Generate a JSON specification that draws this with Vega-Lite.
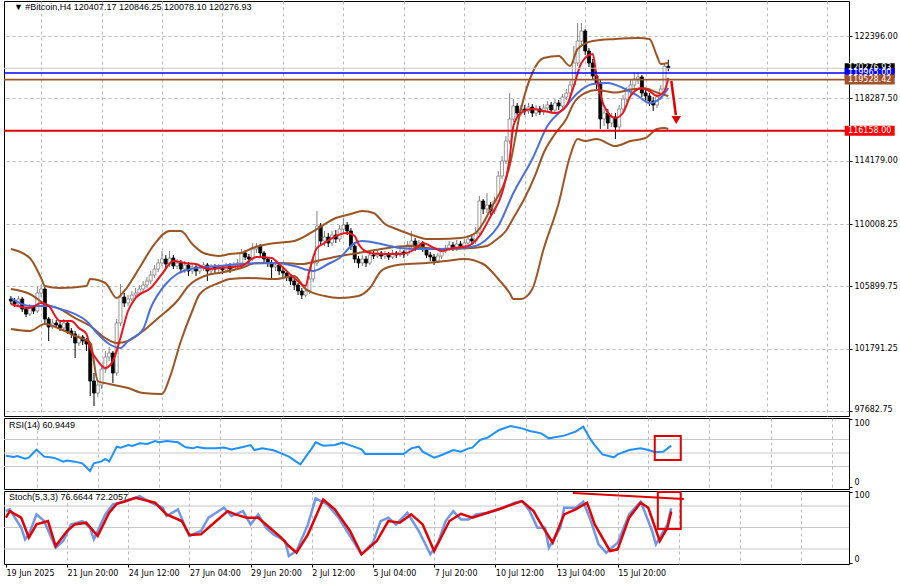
{
"$schema":"https://vega.github.io/schema/vega-lite/v6.json",
"padding":0,
"background":"white",
"spacing":0,
"config":{
 "view":{"stroke":"#000000","strokeWidth":1},
 "axis":{"labelFont":"DejaVu Sans","labelFontSize":8,"labelColor":"#000000","title":null,"gridColor":"#b8b8b8","gridDash":[3,3],"gridWidth":1,"tickColor":"#000000","domain":false}
},
"datasets":{
"bars":[
{"i":0,"o":105066,"h":105264,"l":104736,"c":104934},
{"i":1,"o":104934,"h":105132,"l":104538,"c":104736},
{"i":2,"o":104736,"h":105264,"l":104538,"c":105066},
{"i":3,"o":105066,"h":105198,"l":104209,"c":104407},
{"i":4,"o":104407,"h":104538,"l":103879,"c":104075},
{"i":5,"o":104075,"h":104736,"l":103945,"c":104538},
{"i":6,"o":104538,"h":104670,"l":104075,"c":104275},
{"i":7,"o":104275,"h":105857,"l":104143,"c":105461},
{"i":8,"o":105461,"h":105989,"l":105198,"c":105725},
{"i":9,"o":105725,"h":105857,"l":103484,"c":103747},
{"i":10,"o":103747,"h":103879,"l":102297,"c":103220},
{"i":11,"o":103220,"h":103747,"l":103088,"c":103484},
{"i":12,"o":103484,"h":103682,"l":103154,"c":103352},
{"i":13,"o":103352,"h":103550,"l":102956,"c":103154},
{"i":14,"o":103154,"h":103747,"l":102956,"c":103484},
{"i":15,"o":103484,"h":103616,"l":102759,"c":102956},
{"i":16,"o":102956,"h":103154,"l":102495,"c":102759},
{"i":17,"o":102759,"h":102956,"l":101177,"c":102165},
{"i":18,"o":102165,"h":102759,"l":101968,"c":102561},
{"i":19,"o":102561,"h":102693,"l":102034,"c":102297},
{"i":20,"o":102297,"h":102495,"l":101638,"c":102099},
{"i":21,"o":102099,"h":102231,"l":98672,"c":99660},
{"i":22,"o":99660,"h":100188,"l":98012,"c":98869},
{"i":23,"o":98869,"h":99660,"l":98606,"c":99397},
{"i":24,"o":99397,"h":100715,"l":99133,"c":100451},
{"i":25,"o":100451,"h":101638,"l":100188,"c":101242},
{"i":26,"o":101242,"h":101902,"l":100979,"c":101506},
{"i":27,"o":101506,"h":101638,"l":99529,"c":100188},
{"i":28,"o":100188,"h":103747,"l":99990,"c":103484},
{"i":29,"o":103484,"h":106055,"l":103286,"c":105198},
{"i":30,"o":105198,"h":105461,"l":104538,"c":104802},
{"i":31,"o":104802,"h":105330,"l":104604,"c":105066},
{"i":32,"o":105066,"h":105593,"l":104934,"c":105330},
{"i":33,"o":105330,"h":105791,"l":105132,"c":105461},
{"i":34,"o":105461,"h":105989,"l":105264,"c":105725},
{"i":35,"o":105725,"h":106252,"l":105461,"c":105989},
{"i":36,"o":105989,"h":106516,"l":105791,"c":106252},
{"i":37,"o":106252,"h":106912,"l":106055,"c":106648},
{"i":38,"o":106648,"h":107307,"l":106450,"c":107043},
{"i":39,"o":107043,"h":107703,"l":106846,"c":107439},
{"i":40,"o":107439,"h":108230,"l":107241,"c":107703},
{"i":41,"o":107703,"h":107966,"l":107109,"c":107373},
{"i":42,"o":107373,"h":108230,"l":107175,"c":107769},
{"i":43,"o":107769,"h":107966,"l":107043,"c":107241},
{"i":44,"o":107241,"h":107703,"l":107043,"c":107439},
{"i":45,"o":107439,"h":107637,"l":106846,"c":107043},
{"i":46,"o":107043,"h":107571,"l":106780,"c":107307},
{"i":47,"o":107307,"h":107505,"l":106582,"c":106912},
{"i":48,"o":106912,"h":107439,"l":106714,"c":107175},
{"i":49,"o":107175,"h":107373,"l":106582,"c":106912},
{"i":50,"o":106912,"h":107307,"l":106714,"c":107109},
{"i":51,"o":107109,"h":107505,"l":106912,"c":107307},
{"i":52,"o":107307,"h":107439,"l":106252,"c":106912},
{"i":53,"o":106912,"h":107373,"l":106714,"c":107175},
{"i":54,"o":107175,"h":107373,"l":106780,"c":107043},
{"i":55,"o":107043,"h":107373,"l":106846,"c":107175},
{"i":56,"o":107175,"h":107307,"l":106714,"c":106978},
{"i":57,"o":106978,"h":107439,"l":106846,"c":107241},
{"i":58,"o":107241,"h":107439,"l":106780,"c":107043},
{"i":59,"o":107043,"h":107505,"l":106912,"c":107307},
{"i":60,"o":107307,"h":107703,"l":107109,"c":107439},
{"i":61,"o":107439,"h":108362,"l":107241,"c":108098},
{"i":62,"o":108098,"h":108296,"l":107637,"c":107834},
{"i":63,"o":107834,"h":108032,"l":107439,"c":107703},
{"i":64,"o":107703,"h":108757,"l":107571,"c":108362},
{"i":65,"o":108362,"h":108757,"l":108098,"c":108560},
{"i":66,"o":108560,"h":108691,"l":107834,"c":108098},
{"i":67,"o":108098,"h":108230,"l":107439,"c":107703},
{"i":68,"o":107703,"h":107834,"l":107175,"c":107439},
{"i":69,"o":107439,"h":107637,"l":106450,"c":107175},
{"i":70,"o":107175,"h":107571,"l":106912,"c":107307},
{"i":71,"o":107307,"h":107439,"l":106648,"c":106912},
{"i":72,"o":106912,"h":107109,"l":106516,"c":106780},
{"i":73,"o":106780,"h":106912,"l":106252,"c":106516},
{"i":74,"o":106516,"h":106714,"l":105989,"c":106252},
{"i":75,"o":106252,"h":106450,"l":105659,"c":105989},
{"i":76,"o":105989,"h":106121,"l":105330,"c":105593},
{"i":77,"o":105593,"h":105791,"l":105066,"c":105330},
{"i":78,"o":105330,"h":105857,"l":105198,"c":105593},
{"i":79,"o":105593,"h":106582,"l":105395,"c":106384},
{"i":80,"o":106384,"h":107703,"l":106186,"c":107439},
{"i":81,"o":107439,"h":110867,"l":107241,"c":109878},
{"i":82,"o":109878,"h":110076,"l":108626,"c":108889},
{"i":83,"o":108889,"h":109548,"l":108560,"c":109153},
{"i":84,"o":109153,"h":109417,"l":108494,"c":108757},
{"i":85,"o":108757,"h":109548,"l":108560,"c":109285},
{"i":86,"o":109285,"h":109614,"l":108757,"c":109021},
{"i":87,"o":109021,"h":109944,"l":108823,"c":109680},
{"i":88,"o":109680,"h":110405,"l":109417,"c":109944},
{"i":89,"o":109944,"h":110142,"l":109285,"c":109548},
{"i":90,"o":109548,"h":109746,"l":108296,"c":108560},
{"i":91,"o":108560,"h":108757,"l":107439,"c":107703},
{"i":92,"o":107703,"h":107900,"l":107109,"c":107439},
{"i":93,"o":107439,"h":107966,"l":107241,"c":107703},
{"i":94,"o":107703,"h":107900,"l":107175,"c":107439},
{"i":95,"o":107439,"h":108164,"l":107307,"c":107966},
{"i":96,"o":107966,"h":108230,"l":107703,"c":107900},
{"i":97,"o":107900,"h":108296,"l":107769,"c":108098},
{"i":98,"o":108098,"h":108230,"l":107703,"c":107900},
{"i":99,"o":107900,"h":108230,"l":107703,"c":108032},
{"i":100,"o":108032,"h":108164,"l":107637,"c":107834},
{"i":101,"o":107834,"h":108296,"l":107703,"c":108098},
{"i":102,"o":108098,"h":108230,"l":107769,"c":107966},
{"i":103,"o":107966,"h":108362,"l":107834,"c":108164},
{"i":104,"o":108164,"h":108296,"l":107769,"c":108032},
{"i":105,"o":108032,"h":108889,"l":107900,"c":108626},
{"i":106,"o":108626,"h":109548,"l":108428,"c":108889},
{"i":107,"o":108889,"h":109087,"l":108230,"c":108494},
{"i":108,"o":108494,"h":108955,"l":108296,"c":108757},
{"i":109,"o":108757,"h":108889,"l":108164,"c":108362},
{"i":110,"o":108362,"h":108494,"l":107769,"c":107966},
{"i":111,"o":107966,"h":108164,"l":107571,"c":107834},
{"i":112,"o":107834,"h":108032,"l":107307,"c":107571},
{"i":113,"o":107571,"h":108098,"l":107439,"c":107900},
{"i":114,"o":107900,"h":108428,"l":107703,"c":108230},
{"i":115,"o":108230,"h":108626,"l":108098,"c":108362},
{"i":116,"o":108362,"h":108889,"l":108230,"c":108626},
{"i":117,"o":108626,"h":108823,"l":108230,"c":108428},
{"i":118,"o":108428,"h":108955,"l":108230,"c":108691},
{"i":119,"o":108691,"h":108889,"l":108362,"c":108560},
{"i":120,"o":108560,"h":109021,"l":108362,"c":108757},
{"i":121,"o":108757,"h":109285,"l":108560,"c":109021},
{"i":122,"o":109021,"h":109351,"l":108626,"c":108889},
{"i":123,"o":108889,"h":109812,"l":108691,"c":109417},
{"i":124,"o":109417,"h":111856,"l":109285,"c":111526},
{"i":125,"o":111526,"h":111658,"l":110669,"c":110999},
{"i":126,"o":110999,"h":112053,"l":110735,"c":111262},
{"i":127,"o":111262,"h":111460,"l":110603,"c":110867},
{"i":128,"o":110867,"h":111790,"l":110669,"c":111526},
{"i":129,"o":111526,"h":113504,"l":111328,"c":113174},
{"i":130,"o":113174,"h":114492,"l":112976,"c":114163},
{"i":131,"o":114163,"h":115811,"l":113965,"c":115481},
{"i":132,"o":115481,"h":118645,"l":115283,"c":116931},
{"i":133,"o":116931,"h":118250,"l":116734,"c":117788},
{"i":134,"o":117788,"h":117986,"l":117063,"c":117327},
{"i":135,"o":117327,"h":117854,"l":117129,"c":117591},
{"i":136,"o":117591,"h":117854,"l":117195,"c":117459},
{"i":137,"o":117459,"h":117986,"l":117261,"c":117722},
{"i":138,"o":117722,"h":117920,"l":117063,"c":117327},
{"i":139,"o":117327,"h":117854,"l":117129,"c":117591},
{"i":140,"o":117591,"h":117788,"l":117195,"c":117393},
{"i":141,"o":117393,"h":117920,"l":117195,"c":117657},
{"i":142,"o":117657,"h":118118,"l":117393,"c":117854},
{"i":143,"o":117854,"h":118052,"l":117327,"c":117525},
{"i":144,"o":117525,"h":118250,"l":117327,"c":117986},
{"i":145,"o":117986,"h":118184,"l":117525,"c":117788},
{"i":146,"o":117788,"h":118579,"l":117591,"c":118382},
{"i":147,"o":118382,"h":118909,"l":118184,"c":118645},
{"i":148,"o":118645,"h":119436,"l":118448,"c":119173},
{"i":149,"o":119173,"h":121744,"l":119041,"c":120623},
{"i":150,"o":120623,"h":123260,"l":120425,"c":122073},
{"i":151,"o":122073,"h":123260,"l":121744,"c":122732},
{"i":152,"o":122732,"h":122864,"l":121150,"c":121414},
{"i":153,"o":121414,"h":121612,"l":120359,"c":120623},
{"i":154,"o":120623,"h":120887,"l":119502,"c":119766},
{"i":155,"o":119766,"h":120096,"l":118909,"c":119305},
{"i":156,"o":119305,"h":119568,"l":116272,"c":116931},
{"i":157,"o":116931,"h":117591,"l":116470,"c":117327},
{"i":158,"o":117327,"h":117591,"l":116272,"c":116668},
{"i":159,"o":116668,"h":117327,"l":116404,"c":117063},
{"i":160,"o":117063,"h":117327,"l":115613,"c":116404},
{"i":161,"o":116404,"h":117854,"l":116140,"c":117591},
{"i":162,"o":117591,"h":118514,"l":117393,"c":118250},
{"i":163,"o":118250,"h":119041,"l":118052,"c":118777},
{"i":164,"o":118777,"h":119568,"l":118514,"c":119173},
{"i":165,"o":119173,"h":119964,"l":118909,"c":119568},
{"i":166,"o":119568,"h":119964,"l":119239,"c":119700},
{"i":167,"o":119700,"h":119832,"l":118382,"c":118645},
{"i":168,"o":118645,"h":118909,"l":118118,"c":118448},
{"i":169,"o":118448,"h":118645,"l":117788,"c":118118},
{"i":170,"o":118118,"h":118382,"l":117459,"c":117854},
{"i":171,"o":117854,"h":118579,"l":117657,"c":118382},
{"i":172,"o":118382,"h":119173,"l":118184,"c":118909},
{"i":173,"o":118909,"h":120623,"l":118711,"c":120407},
{"i":174,"o":120407.17,"h":120846.25,"l":120078.10,"c":120276.93}
],
"ln":[
{"s":"u","i":0,"v":108362},{"s":"u","i":5,"v":107769},{"s":"u","i":8,"v":106450},{"s":"u","i":9,"v":105923},{"s":"u","i":13,"v":105791},{"s":"u","i":20,"v":105923},{"s":"u","i":21,"v":106384},{"s":"u","i":25,"v":106121},{"s":"u","i":28,"v":105132},{"s":"u","i":30,"v":105593},{"s":"u","i":34,"v":107109},{"s":"u","i":38,"v":108691},{"s":"u","i":42,"v":109548},{"s":"u","i":45,"v":109548},{"s":"u","i":48,"v":108691},{"s":"u","i":51,"v":108098},{"s":"u","i":55,"v":107900},{"s":"u","i":58,"v":108032},{"s":"u","i":61,"v":108098},{"s":"u","i":64,"v":108428},{"s":"u","i":70,"v":108757},{"s":"u","i":75,"v":108889},{"s":"u","i":81,"v":109680},{"s":"u","i":86,"v":110405},{"s":"u","i":90,"v":110669},{"s":"u","i":93,"v":110867},{"s":"u","i":96,"v":110735},{"s":"u","i":99,"v":110010},{"s":"u","i":102,"v":109680},{"s":"u","i":107,"v":109219},{"s":"u","i":110,"v":109021},{"s":"u","i":113,"v":109021},{"s":"u","i":119,"v":109087},{"s":"u","i":123,"v":109417},{"s":"u","i":125,"v":110076},{"s":"u","i":127,"v":110999},{"s":"u","i":132,"v":113833},{"s":"u","i":135,"v":117591},{"s":"u","i":138,"v":119964},{"s":"u","i":141,"v":120953},{"s":"u","i":145,"v":121084},{"s":"u","i":148,"v":120425},{"s":"u","i":150,"v":121546},{"s":"u","i":154,"v":122073},{"s":"u","i":160,"v":122205},{"s":"u","i":166,"v":122271},{"s":"u","i":169,"v":122205},{"s":"u","i":171,"v":121084},{"s":"u","i":172,"v":120557},{"s":"u","i":174,"v":120623},
{"s":"m","i":0,"v":105725},{"s":"m","i":5,"v":105395},{"s":"m","i":9,"v":104736},{"s":"m","i":13,"v":104407},{"s":"m","i":17,"v":103813},{"s":"m","i":21,"v":103286},{"s":"m","i":25,"v":102495},{"s":"m","i":28,"v":102165},{"s":"m","i":31,"v":102297},{"s":"m","i":35,"v":102956},{"s":"m","i":39,"v":103813},{"s":"m","i":44,"v":104934},{"s":"m","i":47,"v":105923},{"s":"m","i":52,"v":106648},{"s":"m","i":55,"v":106780},{"s":"m","i":61,"v":107109},{"s":"m","i":65,"v":107439},{"s":"m","i":72,"v":107439},{"s":"m","i":77,"v":107373},{"s":"m","i":81,"v":107571},{"s":"m","i":87,"v":107900},{"s":"m","i":92,"v":108098},{"s":"m","i":98,"v":108362},{"s":"m","i":105,"v":108560},{"s":"m","i":110,"v":108428},{"s":"m","i":115,"v":108362},{"s":"m","i":122,"v":108428},{"s":"m","i":126,"v":108560},{"s":"m","i":128,"v":108889},{"s":"m","i":131,"v":109548},{"s":"m","i":133,"v":110405},{"s":"m","i":136,"v":111724},{"s":"m","i":139,"v":113372},{"s":"m","i":141,"v":114690},{"s":"m","i":144,"v":115943},{"s":"m","i":147,"v":116931},{"s":"m","i":149,"v":117986},{"s":"m","i":152,"v":118645},{"s":"m","i":155,"v":118843},{"s":"m","i":160,"v":118678},{"s":"m","i":164,"v":118875},{"s":"m","i":168,"v":118941},{"s":"m","i":171,"v":118678},{"s":"m","i":174,"v":118448},
{"s":"l","i":0,"v":103088},{"s":"l","i":5,"v":102956},{"s":"l","i":9,"v":103418},{"s":"l","i":13,"v":103088},{"s":"l","i":17,"v":102627},{"s":"l","i":21,"v":102165},{"s":"l","i":23,"v":99660},{"s":"l","i":26,"v":99462},{"s":"l","i":31,"v":99199},{"s":"l","i":35,"v":98869},{"s":"l","i":40,"v":98803},{"s":"l","i":42,"v":99858},{"s":"l","i":45,"v":102297},{"s":"l","i":48,"v":104275},{"s":"l","i":50,"v":105395},{"s":"l","i":55,"v":106121},{"s":"l","i":58,"v":106384},{"s":"l","i":63,"v":106450},{"s":"l","i":70,"v":106384},{"s":"l","i":75,"v":106582},{"s":"l","i":78,"v":105725},{"s":"l","i":83,"v":105264},{"s":"l","i":87,"v":105132},{"s":"l","i":92,"v":105264},{"s":"l","i":95,"v":105791},{"s":"l","i":98,"v":106912},{"s":"l","i":101,"v":107241},{"s":"l","i":105,"v":107373},{"s":"l","i":110,"v":107439},{"s":"l","i":115,"v":107571},{"s":"l","i":120,"v":107703},{"s":"l","i":125,"v":107373},{"s":"l","i":129,"v":106384},{"s":"l","i":132,"v":105461},{"s":"l","i":133,"v":105066},{"s":"l","i":135,"v":105066},{"s":"l","i":138,"v":105725},{"s":"l","i":141,"v":108362},{"s":"l","i":145,"v":111394},{"s":"l","i":148,"v":114492},{"s":"l","i":150,"v":115613},{"s":"l","i":152,"v":115481},{"s":"l","i":155,"v":115613},{"s":"l","i":160,"v":115152},{"s":"l","i":164,"v":115481},{"s":"l","i":168,"v":115679},{"s":"l","i":171,"v":116272},{"s":"l","i":173,"v":116338},{"s":"l","i":174,"v":116272},
{"s":"b","i":0,"v":105132},{"s":"b","i":5,"v":104604},{"s":"b","i":10,"v":104604},{"s":"b","i":13,"v":104407},{"s":"b","i":17,"v":104075},{"s":"b","i":20,"v":103616},{"s":"b","i":23,"v":102759},{"s":"b","i":26,"v":102099},{"s":"b","i":29,"v":101836},{"s":"b","i":31,"v":102297},{"s":"b","i":35,"v":103088},{"s":"b","i":37,"v":104473},{"s":"b","i":41,"v":106055},{"s":"b","i":44,"v":106714},{"s":"b","i":49,"v":107109},{"s":"b","i":55,"v":107241},{"s":"b","i":61,"v":107373},{"s":"b","i":70,"v":107439},{"s":"b","i":75,"v":107241},{"s":"b","i":80,"v":106912},{"s":"b","i":84,"v":107373},{"s":"b","i":87,"v":107769},{"s":"b","i":91,"v":108757},{"s":"b","i":93,"v":108889},{"s":"b","i":98,"v":108691},{"s":"b","i":103,"v":108428},{"s":"b","i":108,"v":108362},{"s":"b","i":113,"v":108362},{"s":"b","i":119,"v":108428},{"s":"b","i":123,"v":108560},{"s":"b","i":126,"v":109021},{"s":"b","i":129,"v":109878},{"s":"b","i":133,"v":112053},{"s":"b","i":138,"v":114295},{"s":"b","i":142,"v":116470},{"s":"b","i":147,"v":117788},{"s":"b","i":150,"v":118645},{"s":"b","i":154,"v":119239},{"s":"b","i":158,"v":119305},{"s":"b","i":162,"v":118975},{"s":"b","i":166,"v":118448},{"s":"b","i":169,"v":117986},{"s":"b","i":172,"v":118316},{"s":"b","i":174,"v":118975},
{"s":"r","i":0,"v":104736},{"s":"r","i":5,"v":104473},{"s":"r","i":8,"v":104802},{"s":"r","i":10,"v":104604},{"s":"r","i":13,"v":103616},{"s":"r","i":16,"v":103616},{"s":"r","i":18,"v":103154},{"s":"r","i":20,"v":102759},{"s":"r","i":21,"v":101836},{"s":"r","i":23,"v":100979},{"s":"r","i":25,"v":100517},{"s":"r","i":27,"v":100979},{"s":"r","i":29,"v":102495},{"s":"r","i":31,"v":104275},{"s":"r","i":33,"v":105132},{"s":"r","i":37,"v":105791},{"s":"r","i":40,"v":106714},{"s":"r","i":43,"v":107571},{"s":"r","i":46,"v":107439},{"s":"r","i":49,"v":107373},{"s":"r","i":52,"v":107043},{"s":"r","i":55,"v":107109},{"s":"r","i":61,"v":107241},{"s":"r","i":65,"v":107834},{"s":"r","i":69,"v":107769},{"s":"r","i":71,"v":107373},{"s":"r","i":75,"v":106450},{"s":"r","i":78,"v":105923},{"s":"r","i":79,"v":106912},{"s":"r","i":81,"v":108428},{"s":"r","i":83,"v":108757},{"s":"r","i":85,"v":109087},{"s":"r","i":89,"v":109417},{"s":"r","i":91,"v":109219},{"s":"r","i":92,"v":108691},{"s":"r","i":95,"v":108098},{"s":"r","i":98,"v":108032},{"s":"r","i":103,"v":108032},{"s":"r","i":107,"v":108362},{"s":"r","i":109,"v":108757},{"s":"r","i":112,"v":108428},{"s":"r","i":114,"v":108230},{"s":"r","i":117,"v":108428},{"s":"r","i":121,"v":108560},{"s":"r","i":124,"v":109219},{"s":"r","i":127,"v":110537},{"s":"r","i":130,"v":112053},{"s":"r","i":132,"v":114295},{"s":"r","i":133,"v":116470},{"s":"r","i":135,"v":117327},{"s":"r","i":138,"v":117591},{"s":"r","i":141,"v":117459},{"s":"r","i":144,"v":117327},{"s":"r","i":147,"v":117788},{"s":"r","i":149,"v":119107},{"s":"r","i":151,"v":120623},{"s":"r","i":154,"v":121216},{"s":"r","i":155,"v":119766},{"s":"r","i":157,"v":117788},{"s":"r","i":160,"v":116997},{"s":"r","i":162,"v":117327},{"s":"r","i":164,"v":118448},{"s":"r","i":167,"v":118975},{"s":"r","i":169,"v":118777},{"s":"r","i":171,"v":118448},{"s":"r","i":173,"v":118777},{"s":"r","i":174,"v":119634}
],
"osc":[
{"s":"rsi","i":0,"v":46.0},{"s":"rsi","i":2,"v":44.0},{"s":"rsi","i":3,"v":45.5},{"s":"rsi","i":5,"v":41.5},{"s":"rsi","i":6,"v":43.0},{"s":"rsi","i":8,"v":55.0},{"s":"rsi","i":10,"v":44.6},{"s":"rsi","i":12,"v":43.5},{"s":"rsi","i":13,"v":42.1},{"s":"rsi","i":15,"v":37.2},{"s":"rsi","i":16,"v":39.0},{"s":"rsi","i":18,"v":37.2},{"s":"rsi","i":20,"v":34.7},{"s":"rsi","i":22,"v":23.3},{"s":"rsi","i":23,"v":34.7},{"s":"rsi","i":25,"v":37.5},{"s":"rsi","i":26,"v":41.1},{"s":"rsi","i":27,"v":37.2},{"s":"rsi","i":29,"v":59.4},{"s":"rsi","i":30,"v":58.0},{"s":"rsi","i":32,"v":61.8},{"s":"rsi","i":33,"v":60.5},{"s":"rsi","i":35,"v":64.3},{"s":"rsi","i":37,"v":63.5},{"s":"rsi","i":39,"v":67.8},{"s":"rsi","i":40,"v":66.0},{"s":"rsi","i":42,"v":67.8},{"s":"rsi","i":45,"v":65.8},{"s":"rsi","i":47,"v":58.4},{"s":"rsi","i":49,"v":56.9},{"s":"rsi","i":50,"v":59.0},{"s":"rsi","i":52,"v":56.9},{"s":"rsi","i":55,"v":56.9},{"s":"rsi","i":57,"v":58.0},{"s":"rsi","i":59,"v":55.4},{"s":"rsi","i":62,"v":58.9},{"s":"rsi","i":64,"v":61.8},{"s":"rsi","i":65,"v":54.4},{"s":"rsi","i":67,"v":56.9},{"s":"rsi","i":70,"v":54.0},{"s":"rsi","i":72,"v":49.5},{"s":"rsi","i":74,"v":44.6},{"s":"rsi","i":77,"v":33.2},{"s":"rsi","i":80,"v":56.9},{"s":"rsi","i":81,"v":65.8},{"s":"rsi","i":83,"v":60.9},{"s":"rsi","i":86,"v":61.8},{"s":"rsi","i":88,"v":65.3},{"s":"rsi","i":91,"v":59.4},{"s":"rsi","i":93,"v":55.4},{"s":"rsi","i":94,"v":48.5},{"s":"rsi","i":98,"v":48.5},{"s":"rsi","i":104,"v":48.5},{"s":"rsi","i":106,"v":56.9},{"s":"rsi","i":108,"v":59.4},{"s":"rsi","i":109,"v":52.0},{"s":"rsi","i":112,"v":43.1},{"s":"rsi","i":114,"v":47.0},{"s":"rsi","i":117,"v":54.4},{"s":"rsi","i":119,"v":52.0},{"s":"rsi","i":121,"v":56.9},{"s":"rsi","i":122,"v":57.9},{"s":"rsi","i":124,"v":69.3},{"s":"rsi","i":126,"v":72.7},{"s":"rsi","i":129,"v":84.1},{"s":"rsi","i":132,"v":90.0},{"s":"rsi","i":135,"v":86.5},{"s":"rsi","i":137,"v":82.6},{"s":"rsi","i":140,"v":79.1},{"s":"rsi","i":142,"v":71.7},{"s":"rsi","i":146,"v":75.7},{"s":"rsi","i":149,"v":81.6},{"s":"rsi","i":151,"v":89.0},{"s":"rsi","i":153,"v":69.3},{"s":"rsi","i":154,"v":61.8},{"s":"rsi","i":156,"v":48.0},{"s":"rsi","i":159,"v":43.6},{"s":"rsi","i":160,"v":48.0},{"s":"rsi","i":163,"v":54.4},{"s":"rsi","i":166,"v":56.9},{"s":"rsi","i":168,"v":54.4},{"s":"rsi","i":170,"v":51.0},{"s":"rsi","i":172,"v":52.0},{"s":"rsi","i":174,"v":60.9},
{"s":"k","i":0,"v":72.9},{"s":"k","i":1,"v":75.3},{"s":"k","i":4,"v":49.7},{"s":"k","i":5,"v":33.4},{"s":"k","i":6,"v":40.4},{"s":"k","i":8,"v":68.3},{"s":"k","i":10,"v":59.0},{"s":"k","i":13,"v":21.8},{"s":"k","i":15,"v":31.1},{"s":"k","i":17,"v":54.3},{"s":"k","i":20,"v":59.0},{"s":"k","i":22,"v":49.7},{"s":"k","i":23,"v":33.4},{"s":"k","i":26,"v":68.3},{"s":"k","i":28,"v":82.3},{"s":"k","i":31,"v":86.0},{"s":"k","i":35,"v":93.9},{"s":"k","i":38,"v":84.6},{"s":"k","i":41,"v":77.6},{"s":"k","i":42,"v":66.0},{"s":"k","i":45,"v":75.3},{"s":"k","i":47,"v":49.7},{"s":"k","i":48,"v":38.1},{"s":"k","i":51,"v":45.1},{"s":"k","i":53,"v":63.7},{"s":"k","i":57,"v":77.6},{"s":"k","i":59,"v":66.0},{"s":"k","i":62,"v":72.9},{"s":"k","i":64,"v":54.3},{"s":"k","i":66,"v":68.3},{"s":"k","i":68,"v":49.7},{"s":"k","i":70,"v":40.4},{"s":"k","i":73,"v":31.1},{"s":"k","i":74,"v":10.2},{"s":"k","i":76,"v":17.2},{"s":"k","i":79,"v":54.3},{"s":"k","i":81,"v":90.6},{"s":"k","i":84,"v":82.3},{"s":"k","i":87,"v":63.7},{"s":"k","i":90,"v":38.1},{"s":"k","i":93,"v":12.5},{"s":"k","i":96,"v":28.8},{"s":"k","i":98,"v":59.0},{"s":"k","i":100,"v":63.7},{"s":"k","i":102,"v":54.3},{"s":"k","i":105,"v":70.6},{"s":"k","i":108,"v":45.1},{"s":"k","i":111,"v":12.5},{"s":"k","i":113,"v":28.8},{"s":"k","i":115,"v":59.0},{"s":"k","i":117,"v":72.9},{"s":"k","i":119,"v":61.3},{"s":"k","i":121,"v":61.3},{"s":"k","i":123,"v":68.3},{"s":"k","i":126,"v":70.6},{"s":"k","i":129,"v":75.3},{"s":"k","i":133,"v":84.6},{"s":"k","i":135,"v":86.9},{"s":"k","i":137,"v":72.9},{"s":"k","i":139,"v":49.7},{"s":"k","i":141,"v":49.7},{"s":"k","i":142,"v":21.8},{"s":"k","i":145,"v":49.7},{"s":"k","i":146,"v":77.6},{"s":"k","i":149,"v":77.6},{"s":"k","i":151,"v":86.0},{"s":"k","i":153,"v":59.0},{"s":"k","i":155,"v":26.5},{"s":"k","i":157,"v":14.8},{"s":"k","i":160,"v":28.8},{"s":"k","i":163,"v":68.3},{"s":"k","i":166,"v":86.0},{"s":"k","i":167,"v":72.9},{"s":"k","i":169,"v":45.1},{"s":"k","i":170,"v":26.5},{"s":"k","i":173,"v":54.3},{"s":"k","i":174,"v":76.7},
{"s":"d","i":0,"v":63.7},{"s":"d","i":1,"v":72.9},{"s":"d","i":4,"v":63.7},{"s":"d","i":6,"v":35.8},{"s":"d","i":8,"v":54.3},{"s":"d","i":11,"v":59.0},{"s":"d","i":13,"v":24.1},{"s":"d","i":16,"v":45.1},{"s":"d","i":18,"v":54.3},{"s":"d","i":21,"v":56.7},{"s":"d","i":24,"v":38.1},{"s":"d","i":27,"v":70.6},{"s":"d","i":29,"v":83.2},{"s":"d","i":34,"v":91.6},{"s":"d","i":39,"v":84.6},{"s":"d","i":42,"v":68.3},{"s":"d","i":46,"v":59.0},{"s":"d","i":48,"v":39.5},{"s":"d","i":51,"v":40.4},{"s":"d","i":55,"v":59.0},{"s":"d","i":58,"v":72.9},{"s":"d","i":60,"v":68.3},{"s":"d","i":63,"v":63.7},{"s":"d","i":66,"v":63.7},{"s":"d","i":69,"v":49.7},{"s":"d","i":72,"v":35.8},{"s":"d","i":74,"v":24.1},{"s":"d","i":76,"v":14.8},{"s":"d","i":79,"v":40.4},{"s":"d","i":83,"v":89.2},{"s":"d","i":86,"v":75.3},{"s":"d","i":90,"v":45.1},{"s":"d","i":93,"v":12.5},{"s":"d","i":97,"v":31.1},{"s":"d","i":100,"v":59.0},{"s":"d","i":103,"v":56.7},{"s":"d","i":106,"v":68.3},{"s":"d","i":109,"v":54.3},{"s":"d","i":112,"v":17.2},{"s":"d","i":116,"v":59.0},{"s":"d","i":119,"v":69.2},{"s":"d","i":122,"v":63.7},{"s":"d","i":126,"v":70.6},{"s":"d","i":130,"v":77.6},{"s":"d","i":135,"v":86.9},{"s":"d","i":138,"v":72.9},{"s":"d","i":140,"v":54.3},{"s":"d","i":143,"v":28.8},{"s":"d","i":146,"v":68.3},{"s":"d","i":149,"v":75.3},{"s":"d","i":152,"v":84.6},{"s":"d","i":154,"v":54.3},{"s":"d","i":158,"v":17.2},{"s":"d","i":160,"v":19.5},{"s":"d","i":163,"v":63.7},{"s":"d","i":166,"v":84.6},{"s":"d","i":168,"v":77.6},{"s":"d","i":171,"v":31.1},{"s":"d","i":173,"v":49.7},{"s":"d","i":174,"v":72.2}
],
"hl":[
{"p":120276.93,"t":"120276.93","k":"bid"},
{"p":119965,"t":"119965.00","k":"blue"},
{"p":119528.42,"t":"119528.42","k":"brown"},
{"p":116158,"t":"116158.00","k":"red"}
]
},
"vconcat":[
{
"width":845,"height":415,
"layer":[
{"data":{"name":"bars"},"mark":{"type":"rule","strokeWidth":1},
 "encoding":{
  "x":{"field":"i","type":"quantitative","scale":{"domain":[-0.5,220.5],"nice":false,"zero":false},
       "axis":{"values":[8,16,24,32,40,48,56,64,72,80,88,96,104,112,120,128,136,144,152,160,168,176,184,192,200,208,216],"labels":false,"ticks":false,"grid":true}},
  "y":{"field":"l","type":"quantitative","scale":{"domain":[97354,124710],"nice":false,"zero":false},
       "axis":{"orient":"right","values":[124512.5,122396,120341.75,118287.5,116233.25,114179,112124.75,110008.25,107954,105899.75,103845.5,101791.25,99737,97682.75],
               "labelExpr":"datum.value == 120341.75 || datum.value == 116233.25 ? '' : format(datum.value, '.2f')","tickSize":3,"labelPadding":2,"grid":true,
               "labelBaseline":{"condition":[{"test":"datum.value > 124000","value":"top"},{"test":"datum.value < 98000","value":"alphabetic"}],"value":"middle"}}},
  "y2":{"field":"h"},
  "color":{"condition":{"test":"datum.c >= datum.o","value":"#808080"},"value":"#000000"}}},
{"data":{"name":"bars"},"mark":{"type":"bar","width":3,"strokeWidth":0.8},
 "encoding":{
  "x":{"field":"i","type":"quantitative"},
  "y":{"field":"o","type":"quantitative"},
  "y2":{"field":"c"},
  "fill":{"condition":{"test":"datum.c >= datum.o","value":"#ffffff"},"value":"#000000"},
  "stroke":{"condition":{"test":"datum.c >= datum.o","value":"#808080"},"value":"#000000"}}},
{"data":{"name":"ln"},"transform":[{"filter":{"field":"s","oneOf":["u","m","l","b"]}}],"mark":{"type":"line","strokeWidth":2,"interpolate":"monotone"},
 "encoding":{
  "x":{"field":"i","type":"quantitative"},
  "y":{"field":"v","type":"quantitative"},
  "color":{"field":"s","type":"nominal","scale":{"domain":["u","m","l","b"],"range":["#9C5424","#9C5424","#9C5424","#4A6FD8"]},"legend":null}}},
{"data":{"name":"ln"},"transform":[{"filter":"datum.s == 'r'"}],"mark":{"type":"line","strokeWidth":2,"interpolate":"monotone","color":"#E8141E"},
 "encoding":{
  "x":{"field":"i","type":"quantitative"},
  "y":{"field":"v","type":"quantitative"}}},
{"data":{"name":"hl"},"mark":{"type":"rule"},
 "encoding":{
  "y":{"field":"p","type":"quantitative"},
  "stroke":{"field":"k","type":"nominal","scale":{"domain":["bid","blue","brown","red"],"range":["#c8c8c8","#0000FF","#9C5424","#E00000"]},"legend":null},
  "strokeWidth":{"field":"k","type":"nominal","scale":{"domain":["bid","blue","brown","red"],"range":[1,2,1.5,1.5]},"legend":null}}},
{"data":{"values":[{}]},"mark":{"type":"rule","color":"#E00000","strokeWidth":2.5},
 "encoding":{"x":{"datum":174.8},"y":{"datum":119436},"x2":{"datum":176.0},"y2":{"datum":117195}}},
{"data":{"values":[{}]},"mark":{"type":"point","shape":"triangle-down","filled":true,"size":90,"color":"#E00000","opacity":1},
 "encoding":{"x":{"datum":176.1},"y":{"datum":116866}}},
{"data":{"name":"hl"},"mark":{"type":"point","shape":"M-1,-0.2H1V0.2H-1Z","filled":true,"size":2500,"opacity":1,"strokeWidth":0},
 "encoding":{
  "x":{"datum":227.3},
  "y":{"field":"p","type":"quantitative"},
  "fill":{"field":"k","type":"nominal","scale":{"domain":["bid","blue","brown","red"],"range":["#000000","#0000FF","#A0522D","#FF0000"]},"legend":null}}},
{"data":{"name":"hl"},"mark":{"type":"text","align":"center","baseline":"middle","font":"DejaVu Sans","fontSize":8,"color":"#ffffff"},
 "encoding":{"x":{"datum":227.3},"y":{"field":"p","type":"quantitative"},"text":{"field":"t"}}},
{"data":{"values":[{}]},"mark":{"type":"text","align":"left","baseline":"top","font":"Liberation Sans","fontSize":9,"color":"#000000"},
 "encoding":{"x":{"datum":0.8},"y":{"datum":124580},"text":{"value":"▼ #Bitcoin,H4  120407.17 120846.25 120078.10 120276.93"}}}
]
},
{
"width":845,"height":71,
"layer":[
{"data":{"values":[{"lv":70},{"lv":50},{"lv":30}]},"mark":{"type":"rule","color":"#c8c8c8","strokeWidth":1},
 "encoding":{"y":{"field":"lv","type":"quantitative","scale":{"domain":[-3.33,101.85],"nice":false,"zero":false},
   "axis":{"orient":"right","values":[0,30,50,70,100],"grid":false,"tickSize":3,"labelPadding":2,
   "labelBaseline":{"condition":[{"test":"datum.value == 100","value":"top"},{"test":"datum.value == 0","value":"bottom"}],"value":"middle"},
   "labelColor":{"condition":{"test":"datum.value > 0 && datum.value < 100","value":"#a8a8a8"},"value":"#000000"}}}}},
{"data":{"name":"osc"},"transform":[{"filter":"datum.s == 'rsi'"}],"mark":{"type":"line","color":"#1E90FF","strokeWidth":2},
 "encoding":{
  "x":{"field":"i","type":"quantitative","scale":{"domain":[-0.5,220.5],"nice":false,"zero":false},
       "axis":{"values":[8,16,24,32,40,48,56,64,72,80,88,96,104,112,120,128,136,144,152,160,168,176,184,192,200,208,216],"labels":false,"ticks":false,"grid":true}},
  "y":{"field":"v","type":"quantitative"}}},
{"data":{"values":[{}]},"mark":{"type":"rect","fill":"transparent","stroke":"#E00000","strokeWidth":2},
 "encoding":{"x":{"datum":169.7},"x2":{"datum":176.5},"y":{"datum":75.2},"y2":{"datum":39.6}}},
{"data":{"values":[{}]},"mark":{"type":"text","align":"left","baseline":"top","font":"Liberation Sans","fontSize":9,"color":"#000000"},
 "encoding":{"x":{"datum":0.8},"y":{"datum":97.4},"text":{"value":"RSI(14) 60.9449"}}}
]
},
{
"width":845,"height":73,
"layer":[
{"data":{"values":[{"lv":80},{"lv":50},{"lv":20}]},"mark":{"type":"rule","color":"#c8c8c8","strokeWidth":1},
 "encoding":{"y":{"field":"lv","type":"quantitative","scale":{"domain":[-0.98,100.98],"nice":false,"zero":false},
   "axis":{"orient":"right","values":[0,20,50,80,100],"grid":false,"tickSize":3,"labelPadding":2,
   "labelBaseline":{"condition":[{"test":"datum.value == 100","value":"top"},{"test":"datum.value == 0","value":"bottom"}],"value":"middle"},
   "labelColor":{"condition":{"test":"datum.value > 0 && datum.value < 100","value":"#a8a8a8"},"value":"#000000"}}}}},
{"data":{"name":"osc"},"transform":[{"filter":"datum.s == 'k'"}],"mark":{"type":"line","color":"#6F97E6","strokeWidth":2.5},
 "encoding":{
  "x":{"field":"i","type":"quantitative","scale":{"domain":[-0.5,220.5],"nice":false,"zero":false},
       "axis":{"values":[0,8,16,24,32,40,48,56,64,72,80,88,96,104,112,120,128,136,144,152,160,168,176,184,192,200,208,216],
               "labelExpr":"datum.value % 16 == 0 && datum.value <= 160 ? ['19 Jun 2025','21 Jun 20:00','24 Jun 12:00','27 Jun 04:00','29 Jun 20:00','2 Jul 12:00','5 Jul 04:00','7 Jul 20:00','10 Jul 12:00','13 Jul 04:00','15 Jul 20:00'][datum.value / 16] : ''",
               "labelAlign":"left","labelPadding":2,"tickSize":3,"grid":true,"labelOverlap":false,
               "tickOpacity":{"condition":{"test":"datum.value % 16 == 0 && datum.value <= 160","value":1},"value":0},
               "gridOpacity":{"condition":{"test":"datum.value == 0","value":0},"value":1}}},
  "y":{"field":"v","type":"quantitative"}}},
{"data":{"name":"osc"},"transform":[{"filter":"datum.s == 'd'"}],"mark":{"type":"line","color":"#E00000","strokeWidth":2.5},
 "encoding":{"x":{"field":"i","type":"quantitative"},"y":{"field":"v","type":"quantitative"}}},
{"data":{"values":[{}]},"mark":{"type":"rule","color":"#E00000","strokeWidth":2},
 "encoding":{"x":{"datum":148.3},"y":{"datum":98.1},"x2":{"datum":177.3},"y2":{"datum":89.7}}},
{"data":{"values":[{}]},"mark":{"type":"rect","fill":"transparent","stroke":"#E00000","strokeWidth":2},
 "encoding":{"x":{"datum":170.5},"x2":{"datum":176.5},"y":{"datum":99.5},"y2":{"datum":47.9}}},
{"data":{"values":[{}]},"mark":{"type":"text","align":"left","baseline":"top","font":"Liberation Sans","fontSize":9,"color":"#000000"},
 "encoding":{"x":{"datum":0.8},"y":{"datum":97.5},"text":{"value":"Stoch(5,3,3) 76.6644 72.2057"}}}
]
}
]
}
